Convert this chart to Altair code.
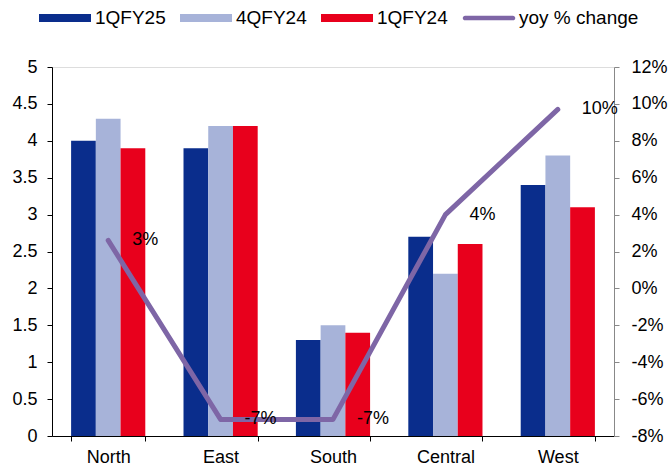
import altair as alt
import pandas as pd

regions = ["North", "East", "South", "Central", "West"]
series_names = ["1QFY25", "4QFY24", "1QFY24"]
q1fy25 = [4.0, 3.9, 1.3, 2.7, 3.4]
q4fy24 = [4.3, 4.2, 1.5, 2.2, 3.8]
q1fy24 = [3.9, 4.2, 1.4, 2.6, 3.1]
yoy = [0.026, -0.071, -0.071, 0.040, 0.097]
right_ticks = [-0.08, -0.06, -0.04, -0.02, 0.0, 0.02, 0.04, 0.06, 0.08, 0.10, 0.12]
left_ticks = [0, 0.5, 1, 1.5, 2, 2.5, 3, 3.5, 4, 4.5, 5]
line_name = "yoy % change"

colors = ["#0A2D8C", "#A7B3D9", "#E8001C", "#7E66A6"]

rows = []
for s, vals in zip(series_names, [q1fy25, q4fy24, q1fy24]):
    for r, v in zip(regions, vals):
        rows.append({"region": r, "series": s, "value": v})
bars_df = pd.DataFrame(rows)
line_df = pd.DataFrame({"region": regions, "yoy": yoy})

FONT = "Liberation Sans"
MINUS = "\u2212"

xenc = alt.X(
    "region:N",
    sort=regions,
    scale=alt.Scale(paddingInner=0.34, paddingOuter=0.17),
    axis=alt.Axis(
        title=None, labelAngle=0, tickBand="extent", domainColor="black",
        tickColor="black", tickSize=5, labelFontSize=18, labelColor="black",
        labelPadding=7, labelFont=FONT,
    ),
)

rect_path = "M-1,-0.154L1,-0.154L1,0.154L-1,0.154Z"
thin_path = "M-0.92,-0.09L0.92,-0.09A0.09,0.09,0,0,1,0.92,0.09L-0.92,0.09A0.09,0.09,0,0,1,-0.92,-0.09Z"

bars = alt.Chart(bars_df).mark_bar().encode(
    x=xenc,
    xOffset=alt.XOffset("series:N", sort=series_names),
    y=alt.Y(
        "value:Q",
        scale=alt.Scale(domain=[0, 5], nice=False),
        axis=alt.Axis(
            title=None, values=left_ticks, format=".1~f",
            grid=False, domainColor="black", tickColor="black", tickSize=5,
            labelFontSize=18, labelColor="black", labelPadding=10, labelFont=FONT,
            labelOverlap=False,
        ),
    ),
    color=alt.Color(
        "series:N",
        scale=alt.Scale(domain=series_names + [line_name], range=colors),
        legend=alt.Legend(
            title=None, orient="none", direction="horizontal", columns=4,
            legendX=-13, legendY=-75, symbolSize=2704,
            symbolType={"expr": f"datum.value === '{line_name}' ? '{thin_path}' : '{rect_path}'"},
            labelFontSize=19, labelFont=FONT, labelColor="black",
            labelOffset=4, columnPadding=14, symbolStrokeWidth=0,
            symbolOpacity=1,
        ),
    ),
)

line = alt.Chart(line_df).mark_line(strokeWidth=5, strokeCap="round", strokeJoin="round").encode(
    x=alt.X("region:N", sort=regions),
    y=alt.Y(
        "yoy:Q",
        scale=alt.Scale(domain=[-0.08, 0.12], nice=False),
        axis=alt.Axis(
            title=None, orient="right", values=right_ticks,
            labelExpr=f"replace(format(datum.value, '.0%'), '{MINUS}', '-')",
            grid=False, domainColor="#888888", tickColor="#888888",
            tickSize=5, labelFontSize=18, labelColor="black", labelPadding=12,
            labelFont=FONT, labelOverlap=False,
        ),
    ),
    color=alt.datum(line_name),
)

labels = alt.Chart(line_df).transform_calculate(
    label=f"replace(format(datum.yoy, '.0%'), '{MINUS}', '-')"
).mark_text(
    align="left", baseline="middle", dx=24, fontSize=18, font=FONT, color="black"
).encode(
    x=alt.X("region:N", sort=regions),
    y=alt.Y("yoy:Q", scale=alt.Scale(domain=[-0.08, 0.12], nice=False), axis=None),
    text="label:N",
)

chart = (
    alt.layer(bars, line, labels)
    .resolve_scale(y="independent")
    .properties(
        width=562, height=369,
        autosize=alt.AutoSizeParams(type="none"),
        padding={"left": 52, "top": 67, "right": 57, "bottom": 36},
    )
    .configure_view(stroke=None)
    .configure(font=FONT)
)

chart.save("out.html", embed_options={"renderer": "svg", "actions": False})
